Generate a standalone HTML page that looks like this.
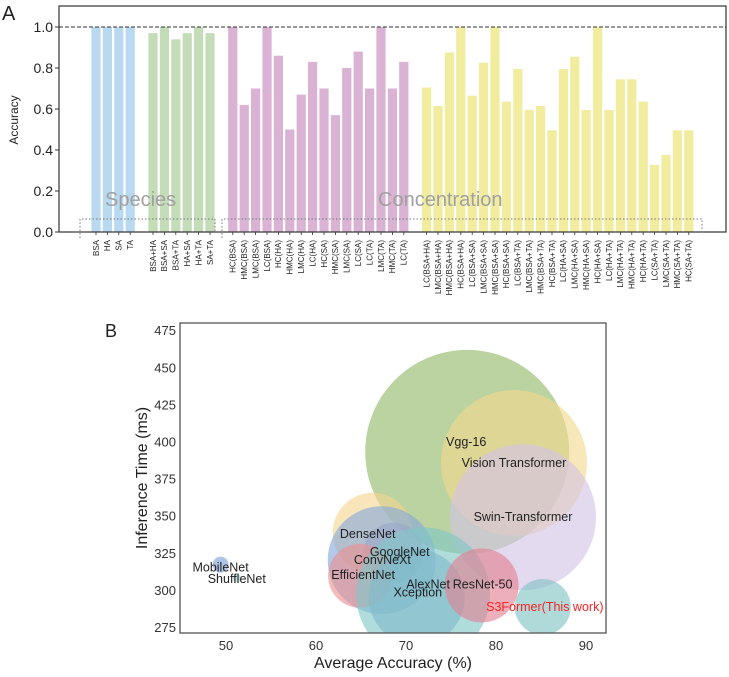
<!DOCTYPE html>
<html><head><meta charset="utf-8"><style>
body{margin:0;background:#fff;width:729px;height:672px;overflow:hidden}
svg{font-family:"Liberation Sans",Arial,sans-serif}
</style></head><body>
<svg id="chart" width="729" height="672" viewBox="0 0 729 672" xmlns="http://www.w3.org/2000/svg">
<g id="topChart"></g>
<g id="botChart"></g>
</svg>
<script>
// ---- Panel A data ----
const speciesCats = ["BSA","HA","SA","TA"];
const speciesVals = [1.0,1.0,1.0,1.0];
const pairCats = ["BSA+HA","BSA+SA","BSA+TA","HA+SA","HA+TA","SA+TA"];
const pairVals = [0.97,1.0,0.94,0.97,1.0,0.97];
const singleConcCats = ["HC(BSA)","HMC(BSA)","LMC(BSA)","LC(BSA)","HC(HA)","HMC(HA)","LMC(HA)","LC(HA)","HC(SA)","HMC(SA)","LMC(SA)","LC(SA)","LC(TA)","LMC(TA)","HMC(TA)","LC(TA)"];
const singleConcVals = [1.0,0.62,0.70,1.0,0.86,0.50,0.67,0.83,0.70,0.57,0.80,0.88,0.70,1.0,0.70,0.83];
const pairConcCats = ["LC(BSA+HA)","LMC(BSA+HA)","HMC(BSA+HA)","HC(BSA+HA)","LC(BSA+SA)","LMC(BSA+SA)","HMC(BSA+SA)","HC(BSA+SA)","LC(BSA+TA)","LMC(BSA+TA)","HMC(BSA+TA)","HC(BSA+TA)","LC(HA+SA)","LMC(HA+SA)","HMC(HA+SA)","HC(HA+SA)","LC(HA+TA)","LMC(HA+TA)","HMC(HA+TA)","HC(HA+TA)","LC(SA+TA)","LMC(SA+TA)","HMC(SA+TA)","HC(SA+TA)"];
const pairConcVals = [0.705,0.615,0.876,1.0,0.665,0.826,1.0,0.636,0.795,0.595,0.615,0.496,0.795,0.855,0.595,1.0,0.595,0.745,0.745,0.636,0.327,0.376,0.496,0.496];
const yTicksA = [0.0,0.2,0.4,0.6,0.8,1.0];

// ---- Panel B data ----
const models = ["MobileNet","ShuffleNet","EfficientNet","DenseNet","GoogleNet","ConvNeXt","Xception","AlexNet","ResNet-50","S3Former(This work)","Vgg-16","Vision Transformer","Swin-Transformer"];
const avgAcc = [49.4,51.2,64.9,66.3,67.3,68.6,71.2,71.9,78.4,85.2,76.8,82.0,83.0];
const infTime = [317,308,309.5,338.5,320,325,295,297,303,288.5,393,385.5,349];
const modelSize = [8,4,32,40,54,30,48,67,37,28,102,73,73];
const xTicksB = [50,60,70,80,90];
const yTicksB = [275,300,325,350,375,400,425,450,475];

const NS="http://www.w3.org/2000/svg";
function mk(tag,attrs,parent,text){const e=document.createElementNS(NS,tag);for(const k in attrs)e.setAttribute(k,attrs[k]);if(text!==undefined)e.textContent=text;parent.appendChild(e);return e;}

// ---- Panel A ----
const gA=document.getElementById('topChart');
const A={l:59,r:726,t:6,b:232};
const yA=v=>A.b-v*205;
const xA=i=>96+i*11.4;
const groups=[
 {cats:speciesCats,vals:speciesVals,start:0,color:"#b9d9f0",name:"species-bar"},
 {cats:pairCats,vals:pairVals,start:5,color:"#c4dcb8",name:"species-pair-bar"},
 {cats:singleConcCats,vals:singleConcVals,start:12,color:"#d9b2d4",name:"concentration-bar"},
 {cats:pairConcCats,vals:pairConcVals,start:29,color:"#f1ec9e",name:"concentration-pair-bar"}];
groups.forEach(g=>{g.cats.forEach((c,j)=>{
 const i=g.start+j, x=xA(i), y=yA(g.vals[j]);
 const r=mk('rect',{x:x-4.6,y:y,width:9.2,height:A.b-y,fill:g.color},gA);
 
 
 const t=mk('text',{transform:`translate(${x+2.8},240) rotate(-90)`,'text-anchor':'end','font-size':'8',fill:'#222'},gA,c);
 
 
 mk('line',{x1:x,x2:x,y1:A.b,y2:A.b+3,stroke:'#333','stroke-width':0.8},gA);
});});
mk('line',{x1:A.l,x2:A.r,y1:yA(1),y2:yA(1),stroke:'#333','stroke-width':1,'stroke-dasharray':'4,2'},gA);
mk('rect',{x:A.l,y:A.t,width:A.r-A.l,height:A.b-A.t,fill:'none',stroke:'#333','stroke-width':1.2},gA);
yTicksA.forEach(v=>{const y=yA(v);
 mk('line',{x1:A.l-4,x2:A.l,y1:y,y2:y,stroke:'#333'},gA);
 const t=mk('text',{x:A.l-6,y:y+5,'text-anchor':'end','font-size':'14',fill:'#222'},gA,v.toFixed(1));
 
 
});
mk('text',{transform:'translate(18,120) rotate(-90)','text-anchor':'middle','font-size':'12',fill:'#222'},gA,'Accuracy');
mk('text',{x:2,y:20,'font-size':'20',fill:'#222'},gA,'A');
mk('path',{d:'M80,238 V219 H215 V233',fill:'none',stroke:'#777','stroke-width':1,'stroke-dasharray':'1.5,2'},gA);
mk('path',{d:'M222,238 V219 H702 V233',fill:'none',stroke:'#777','stroke-width':1,'stroke-dasharray':'1.5,2'},gA);
mk('text',{x:105,y:206,'font-size':'20',fill:'#a0a0a0'},gA,'Species');
mk('text',{x:378,y:206,'font-size':'20',fill:'#a0a0a0'},gA,'Concentration');

// ---- Panel B ----
const gB=document.getElementById('botChart');
const B={l:180,r:606,t:323,b:633};
const xB=v=>226+(v-50)*9;
const yB=v=>627-(v-275)*1.484;
const rB=v=>v;
const colors=["#7f9fd6","#9bd0d0","#ec8f8f","#f3d590","#86a8dc","#9aa7c9","#7fa4d4","#7fc6c6","#e2808f","#7fc1c4","#8fb868","#f3d98e","#d4c4e6"];
const labelOff=[[0,3],[0,1],[3,-1],[-5,1],[18,-8],[-11,7],[1,-5],[5,-10],[1,-1],[2,0],[-1,-10],[0,0],[0,0]];
mk('clipPath',{id:'clipB'},gB);
mk('rect',{x:B.l,y:B.t,width:B.r-B.l,height:B.b-B.t},document.getElementById('clipB'));
const bub=mk('g',{'clip-path':'url(#clipB)'},gB);
const order=[10,11,12,3,4,5,2,6,7,8,9,0,1];
order.forEach(i=>{
 const c=mk('circle',{cx:xB(avgAcc[i]),cy:yB(infTime[i]),r:rB(modelSize[i]),fill:colors[i],'fill-opacity':0.62},bub);
 
 
});
models.forEach((m,i)=>{
 const t=mk('text',{x:xB(avgAcc[i])+labelOff[i][0],y:yB(infTime[i])+labelOff[i][1]+4,'text-anchor':'middle','font-size':'12.5',fill:i===9?'#ff2020':'#222'},gB,m);
 
 
});
mk('rect',{x:B.l,y:B.t,width:B.r-B.l,height:B.b-B.t,fill:'none',stroke:'#555','stroke-width':1.3},gB);
xTicksB.forEach(v=>{const t=mk('text',{x:xB(v),y:650,'text-anchor':'middle','font-size':'13',fill:'#333'},gB,v);
 
 });
yTicksB.forEach(v=>{const t=mk('text',{x:176,y:yB(v)+5,'text-anchor':'end','font-size':'13',fill:'#333'},gB,v);
 
 });
mk('text',{x:393,y:668,'text-anchor':'middle','font-size':'16',fill:'#222'},gB,'Average Accuracy (%)');
mk('text',{transform:'translate(147,478) rotate(-90)','text-anchor':'middle','font-size':'16',fill:'#222'},gB,'Inference Time (ms)');
mk('text',{x:105,y:337,'font-size':'18',fill:'#222'},gB,'B');
</script>
</body></html>
